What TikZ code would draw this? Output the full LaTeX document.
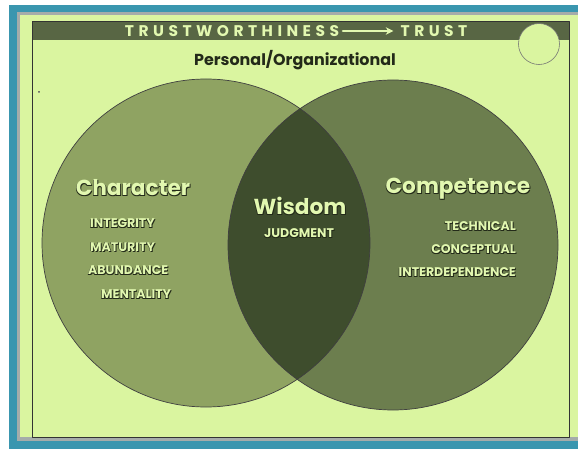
\documentclass[tikz,border=0pt]{standalone}
\usepackage{fontspec}
\setmainfont{Poppins}
\usetikzlibrary{arrows.meta}
\definecolor{paper}{RGB}{218,245,160}
\definecolor{teal}{RGB}{58,150,175}
\definecolor{rim}{RGB}{165,172,170}
\definecolor{band}{RGB}{88,102,68}
\definecolor{leftc}{RGB}{143,163,98}
\definecolor{rightc}{RGB}{108,126,78}
\definecolor{lens}{RGB}{62,77,45}
\definecolor{glow}{RGB}{226,248,176}
\definecolor{shade}{RGB}{35,42,25}
\newcommand\shadowlbl[4]{%
  \node[#3, text=shade] at ([shift={(1,1)}]#2) {#4};
  \node[#3, text=shade] at ([shift={(-0.5,0.6)}]#2) {#4};
  \node[#3] (#1) at (#2) {#4};}
\begin{document}
\begin{tikzpicture}[x=0.03cm, y=-0.03cm, font=\bfseries, line join=round, line cap=round, >=stealth,
  big/.style={inner sep=0pt, text=glow, font=\bfseries\fontsize{18.5}{20}\selectfont},
  small/.style={inner sep=0pt, text=glow, font=\bfseries\fontsize{10.7}{12}\selectfont},
  head/.style={inner sep=0pt, text=glow, font=\bfseries\fontsize{13.2}{15}\selectfont\addfontfeatures{LetterSpace=29}}]
	\useasboundingbox (0,0) rectangle (578,451);
	\fill[white] (0,0) rectangle (578,451);
	\fill[teal] (9,5) rectangle (578,449);
	\fill[rim] (17,12) rectangle (578,441);
	\fill[paper] (20,15) rectangle (578,437);
	
	\fill[band] (32,21) rectangle (569,40);
	\draw[black!80, line width=0.5pt] (32,21) rectangle (569,437);
	\fill[shade] (39,92) circle (0.9);
	
	\coordinate (L) at (206,243);
	\coordinate (R) at (393,245);
	\fill[leftc] (L) circle (164);
	\fill[rightc] (R) circle (165);
	\begin{scope}
		\clip (L) circle (164);
		\fill[lens] (R) circle (165);
	\end{scope}
	\draw[black!75, line width=0.6pt] (L) circle (164) (R) circle (165);
	
	\filldraw[fill=paper, draw=black!55, line width=0.5pt] (539,44) circle (20.5);
	
	\node[head] (tw) at (232,31) {TRUSTWORTHINESS};
	\node[head] (tr) at (434,31) {TRUST};
	\draw[-{Stealth[length=6.5pt, width=6.5pt]}, glow, line width=1.8pt, shorten <=3pt, shorten >=6pt] (tw.east) -- (tr.west);
	\node[inner sep=0pt, text=shade, font=\bfseries\fontsize{13.6}{15}\selectfont] (po) at (295,60) {Personal/Organizational};
	
	\shadowlbl{ch}{133,188}{big}{Character}
	\shadowlbl{in}{90,223}{small, anchor=west}{INTEGRITY}
	\shadowlbl{ma}{90,247}{small, anchor=west}{MATURITY}
	\shadowlbl{ab}{88,270}{small, anchor=west}{ABUNDANCE}
	\shadowlbl{me}{101,294}{small, anchor=west}{MENTALITY}
	\shadowlbl{wi}{300,206}{big}{Wisdom}
	\shadowlbl{ju}{299,233}{small}{JUDGMENT}
	\shadowlbl{co}{458,189}{big}{Competence}
	\shadowlbl{te}{516,226}{small, anchor=east}{TECHNICAL}
	\shadowlbl{cp}{516,249}{small, anchor=east}{CONCEPTUAL}
	\shadowlbl{id}{516,272}{small, anchor=east}{INTERDEPENDENCE}
\end{tikzpicture}
\end{document}
